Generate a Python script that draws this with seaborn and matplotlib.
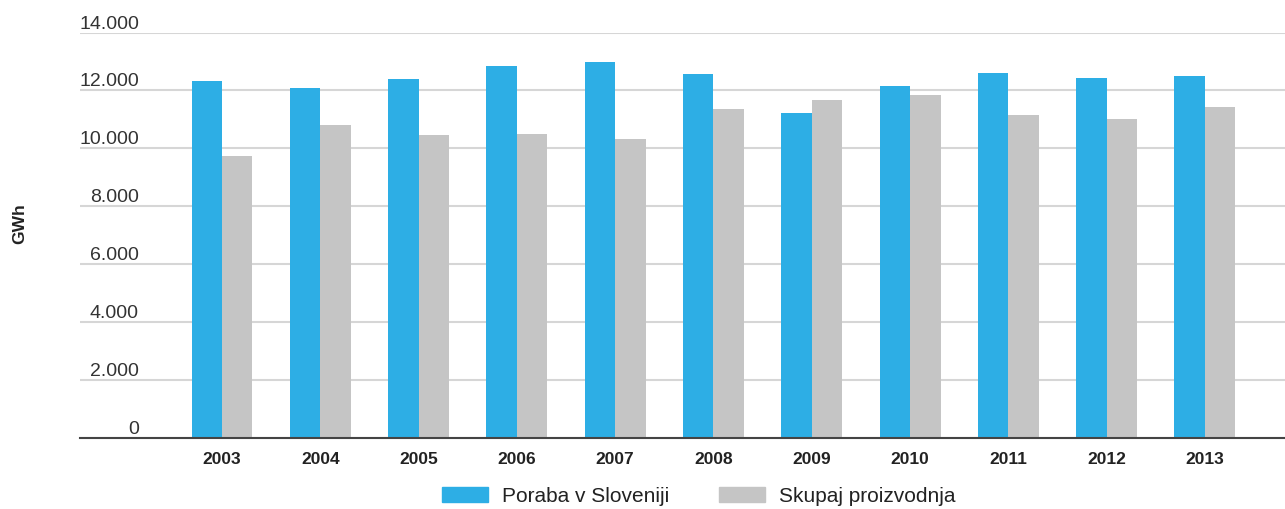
import pandas as pd
import seaborn as sns
import matplotlib.pyplot as plt

# values (GWh)
years = ['2003', '2004', '2005', '2006', '2007', '2008', '2009', '2010', '2011', '2012', '2013']
poraba = [12330, 12090, 12400, 12850, 12980, 12580, 11230, 12150, 12600, 12440, 12480]
proizvodnja = [9730, 10800, 10450, 10490, 10330, 11370, 11680, 11830, 11160, 11020, 11440]
series_names = ['Poraba v Sloveniji', 'Skupaj proizvodnja']
y_ticks = [0, 2000, 4000, 6000, 8000, 10000, 12000, 14000]
y_labels = ['0', '2.000', '4.000', '6.000', '8.000', '10.000', '12.000', '14.000']

df = pd.DataFrame({
    'Leto': years * 2,
    'GWh': poraba + proizvodnja,
    'Serija': [series_names[0]] * len(years) + [series_names[1]] * len(years),
})

sns.set_style('white')
plt.rcParams['font.family'] = ['Liberation Sans', 'DejaVu Sans']

fig = plt.figure(figsize=(12.85, 5.10), dpi=100)
ax = fig.add_axes([80 / 1285, 1 - 438.5 / 510, 1205 / 1285, (438.5 - 33.5) / 510])

sns.barplot(data=df, x='Leto', y='GWh', hue='Serija', ax=ax,
            palette=['#2DAEE5', '#C5C5C5'], width=0.62, gap=0,
            saturation=1, linewidth=0, legend=False)

ax.set_ylim(0, 14000)
ax.set_xlim(-1.445, 10.815)
ax.set_yticks(y_ticks)
ax.set_yticklabels([])
ax.yaxis.grid(True, color='#D6D6D6', linewidth=1.5)
ax.set_axisbelow(True)
ax.tick_params(axis='both', length=0)
ax.tick_params(axis='x', pad=10)
for lbl in ax.get_xticklabels():
    lbl.set_fontweight('bold')
    lbl.set_fontsize(12.5)
    lbl.set_color('#222222')

for s in ['top', 'right', 'left']:
    ax.spines[s].set_visible(False)
ax.spines['bottom'].set_color('#444444')
ax.spines['bottom'].set_linewidth(1.5)

# y labels sit on top of the grid lines, right aligned
for v, t in zip(y_ticks, y_labels):
    ax.text(59 / 1205, v + 170, t, transform=ax.get_yaxis_transform(),
            ha='right', va='baseline', fontsize=14, color='#333333', clip_on=False)

ax.set_xlabel('')
ax.set_ylabel('')
fig.text(20 / 1285, 1 - 224 / 510, 'GWh', rotation=90, ha='center', va='center',
         fontsize=12.5, fontweight='bold', color='#222222')

handles = [plt.Rectangle((0, 0), 1, 1, color=c) for c in ['#2DAEE5', '#C5C5C5']]
fig.legend(handles, series_names, loc='center', bbox_to_anchor=(0.544, 1 - 497 / 510),
           ncol=2, frameon=False, fontsize=15, handlelength=2.2, handleheight=0.7,
           handletextpad=0.67, columnspacing=2.4, labelcolor='#222222')

fig.savefig('out.png', dpi=100)
